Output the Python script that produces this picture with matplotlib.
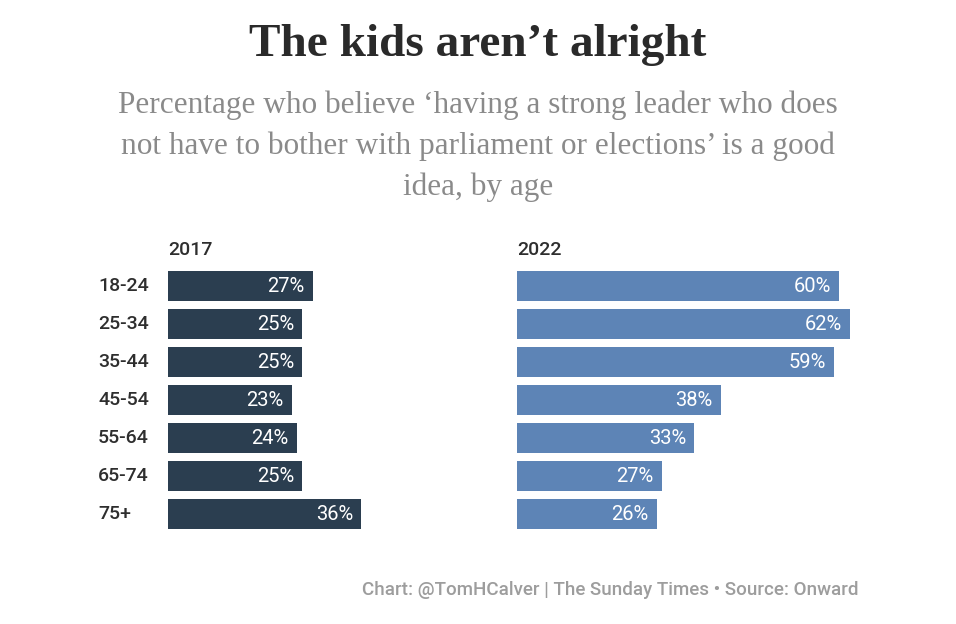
import matplotlib.pyplot as plt

ages = ["18-24", "25-34", "35-44", "45-54", "55-64", "65-74", "75+"]
vals_2017 = [27, 25, 25, 23, 24, 25, 36]
vals_2022 = [60, 62, 59, 38, 33, 27, 26]

dark = "#2b3e50"
light = "#5d84b6"
textc = "#2e2e2e"

W, H = 956, 624
fig = plt.figure(figsize=(W / 100, H / 100), dpi=100)
fig.patch.set_facecolor("white")

def px_axes(x0, y0, x1, y1):
    return fig.add_axes([x0 / W, 1 - y1 / H, (x1 - x0) / W, (y1 - y0) / H])

scale = 5.37  # px per percent
top, bottom = 267, 533

ax1 = px_axes(168, top, 168 + 40 * scale, bottom)
ax2 = px_axes(517, top, 517 + 65 * scale, bottom)

for ax, vals, col, year, xmax in [(ax1, vals_2017, dark, "2017", 40), (ax2, vals_2022, light, "2022", 65)]:
    ypos = range(len(vals))
    ax.barh(ypos, vals, height=0.79, color=col)
    ax.set_xlim(0, xmax)
    ax.set_ylim(len(vals) - 0.5, -0.5)
    ax.axis("off")
    for i, v in enumerate(vals):
        ax.annotate(f"{v}%", (v, i), xytext=(-6, 0), textcoords="offset points",
                    ha="right", va="center", color="white", fontsize=14.5,
                    family="Roboto")
    ax.text(0, -0.72, year, ha="left", va="bottom", fontsize=14, family="Roboto",
            fontweight="medium", color=textc)

for i, a in enumerate(ages):
    ax1.text(-70 / scale, i, a, ha="left", va="center", fontsize=14, family="Roboto",
             fontweight="medium", color=textc)

fig.text(0.5, 1 - 45 / H, "The kids aren\u2019t alright", ha="center", va="center",
         fontsize=34, fontweight="bold", family="Liberation Serif", color="#2a2a2a")
sub = ("Percentage who believe \u2018having a strong leader who does\n"
       "not have to bother with parliament or elections\u2019 is a good\n"
       "idea, by age")
fig.text(0.5, 1 - 146 / H, sub, ha="center", va="center", fontsize=22.5,
         family="Liberation Serif", color="#8a8a8a", linespacing=1.5)
fig.text(858 / W, 1 - 590 / H, "Chart: @TomHCalver | The Sunday Times \u2022 Source: Onward",
         ha="right", va="center", fontsize=13.5, family="Roboto", fontweight="medium",
         color="#9d9d9d")

fig.savefig("out.png", dpi=100)
